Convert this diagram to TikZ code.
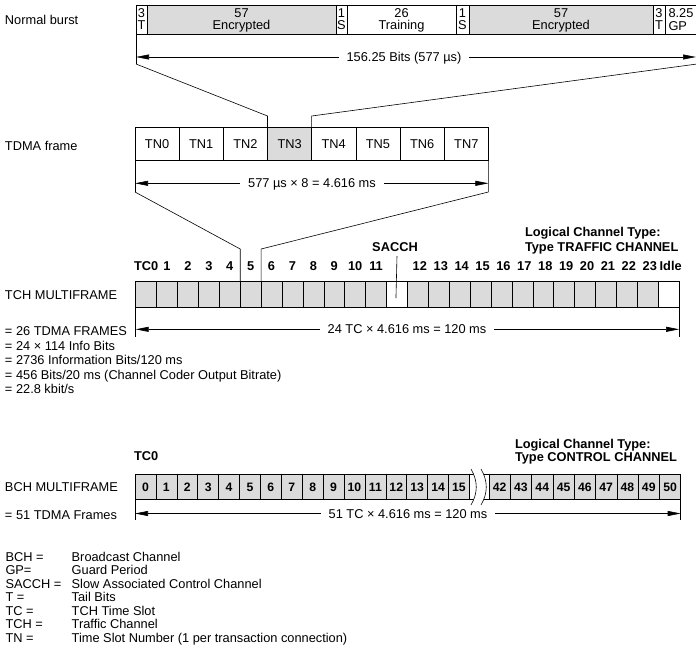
\documentclass[tikz,border=0pt]{standalone}
\usepackage{fontspec}
\setmainfont{Liberation Sans}
\usetikzlibrary{arrows.meta}
\definecolor{cellgray}{gray}{0.86}
\tikzset{
	cell/.style 2 args={draw,line width=0.6pt,inner sep=0pt,outer sep=0pt,minimum width=#1,minimum height=#2,
		font=\fontsize{12.8}{14}\selectfont,text height=9pt,text depth=0pt},
	bcell/.style 2 args={cell={#1}{#2},fill=cellgray,font=\fontsize{12.2}{14}\selectfont\bfseries},
	txt/.style={inner sep=0pt,outer sep=0pt,text height=9pt,text depth=0pt,font=\fontsize{12.8}{14}\selectfont},
	btxt/.style={txt,font=\fontsize{12.8}{14}\selectfont\bfseries},
	span/.style={line width=0.6pt,-{Triangle[length=13pt,width=5pt]}},
	spanlabel/.style={txt,fill=white,inner xsep=8pt}
}
\begin{document}
\begin{tikzpicture}[x=1pt,y=-1pt,line width=0.6pt]
	\useasboundingbox (0,0) rectangle (696,651);

	% normal burst
	\node[txt,anchor=west] (lburst) at (5,19.5) {Normal burst};
	\node[cell={11pt}{29pt}] (t1) at (141.5,19.5) {};
	\node[cell={189pt}{29pt},fill=cellgray] (e1) at (241.5,19.5) {};
	\node[cell={11pt}{29pt}] (s1) at (341.5,19.5) {};
	\node[cell={109pt}{29pt}] (tr) at (401.5,19.5) {};
	\node[cell={13pt}{29pt}] (s2) at (462.5,19.5) {};
	\node[cell={184pt}{29pt},fill=cellgray] (e2) at (561,19.5) {};
	\node[cell={12pt}{29pt}] (t2) at (659,19.5) {};
	\node[cell={35pt}{29pt}] (gp) at (682.5,19.5) {};

	\node[txt] at ([yshift=7pt]t1.center) {3};
	\node[txt] at ([yshift=-5.5pt]t1.center) {T};
	\node[txt] at ([yshift=7pt]e1.center) {57};
	\node[txt] at ([yshift=-5.5pt]e1.center) {Encrypted};
	\node[txt] at ([yshift=7pt]s1.center) {1};
	\node[txt] at ([yshift=-5.5pt]s1.center) {S};
	\node[txt] at ([yshift=7pt]tr.center) {26};
	\node[txt] at ([yshift=-5.5pt]tr.center) {Training};
	\node[txt] at ([yshift=7pt]s2.center) {1};
	\node[txt] at ([yshift=-5.5pt]s2.center) {S};
	\node[txt] at ([yshift=7pt]e2.center) {57};
	\node[txt] at ([yshift=-5.5pt]e2.center) {Encrypted};
	\node[txt] at ([yshift=7pt]t2.center) {3};
	\node[txt] at ([yshift=-5.5pt]t2.center) {T};
	\node[txt,anchor=west] at (668.5,12.5) {8.25};
	\node[txt,anchor=west] at (668.5,26) {GP};

	\coordinate (bt1) at (136,64);
	\coordinate (bt2) at (697,64);
	\draw (t1.south west) -- (bt1);
	\node[spanlabel] (lbits) at (404,57) {156.25 Bits (577 µs)};
	\draw[span] (lbits.west) -- (t1.south west |- 0,57);
	\draw[span] (lbits.east) -- (696,57);

	% tdma frame
	\node[txt,anchor=west] (lframe) at (5,146) {TDMA frame};
	\foreach \i/\c in {0/white,1/white,2/white,3/cellgray,4/white,5/white,6/white,7/white}
		\node[cell={44.17pt}{33pt},fill=\c] (tn\i) at ({135+44.17*(\i+0.5)},144.2) {TN\i};

	\draw (bt1) -- (tn3.north west |- 0,116) -- (tn3.north west);
	\draw (bt2) -- (tn3.north east |- 0,116) -- (tn3.north east);

	\coordinate (ft1) at (135,192);
	\coordinate (ft2) at (488.3,192);
	\draw (tn0.south west) -- (ft1);
	\draw (tn7.south east) -- (ft2);
	\node[spanlabel] (lms) at (312,183.3) {577 µs × 8 = 4.616 ms};
	\draw[span] (lms.west) -- (tn0.south west |- 0,183.3);
	\draw[span] (lms.east) -- (tn7.south east |- 0,183.3);

	% tch multiframe
	\node[txt,anchor=west] (ltch) at (5,294.5) {TCH MULTIFRAME};
	\foreach \i in {0,...,11}
		\node[cell={20.9pt}{25.6pt},fill=cellgray] (tc\i) at ({135.7+20.9*(\i+0.5)},294.5) {};
	\foreach \i in {13,...,24}
		\node[cell={20.9pt}{25.6pt},fill=cellgray] (tc\i) at ({135.7+20.9*(\i+0.5)},294.5) {};
	\node[cell={20.9pt}{25.6pt}] (tc12) at ({135.7+20.9*12.5},294.5) {};
	\node[cell={20.9pt}{25.6pt}] (tc25) at ({135.7+20.9*25.5},294.5) {};

	\node[btxt] at (tc0 |- 0,266) {TC0};
	\foreach \i in {1,...,11}
		\node[btxt] at (tc\i |- 0,266) {\i};
	\foreach \i in {13,...,24}{
		\pgfmathtruncatemacro\n{\i-1}
		\node[btxt] at ([xshift=2pt]tc\i |- 0,266) {\n};
	}
	\node[btxt] at ([xshift=2pt]tc25 |- 0,266) {Idle};

	\node[btxt] (lsacch) at (395,246.7) {SACCH};
	\draw ([xshift=2pt]lsacch.south |- 0,256) -- ([xshift=-1pt]tc12.center |- 0,298);

	\node[btxt,anchor=west] (ltype) at (525,231.7) {Logical Channel Type:};
	\node[btxt,anchor=west] (ltraffic) at (525,246.7) {Type TRAFFIC CHANNEL};

	\draw (ft1) -- (tc5.north west |- 0,249) -- (tc5.north west);
	\draw (ft2) -- (tc5.north east |- 0,249) -- (tc5.north east);

	\draw (tc0.south west) -- +(0,29.4);
	\draw (tc25.south east) -- +(0,29.4);
	\node[spanlabel] (ltc) at (407,329.3) {24 TC × 4.616 ms = 120 ms};
	\draw[span] (ltc.west) -- (tc0.south west |- 0,329.3);
	\draw[span] (ltc.east) -- (tc25.south east |- 0,329.3);

	\node[txt,anchor=west] (f1) at (5,331) {= 26 TDMA FRAMES};
	\node[txt,anchor=west] (f2) at (5,345.5) {= 24 × 114 Info Bits};
	\node[txt,anchor=west] (f3) at (5,360) {= 2736 Information Bits/120 ms};
	\node[txt,anchor=west] (f4) at (5,374.5) {= 456 Bits/20 ms (Channel Coder Output Bitrate)};
	\node[txt,anchor=west] (f5) at (5,389) {= 22.8 kbit/s};

	% bch multiframe
	\node[txt,anchor=west] (lbch) at (5,486.5) {BCH MULTIFRAME};
	\foreach \i in {0,...,15}
		\node[bcell={20.9pt}{25.6pt}] (bc\i) at ({135+20.9*(\i+0.5)},486.8) {\i};
	\foreach \i in {42,...,50}
		\node[bcell={21.3pt}{25.6pt}] (bc\i) at ({489+21.3*(\i-41.5)},486.8) {\i};

	\draw (bc15.north east) -- (bc42.north west);
	\draw (bc15.south east) -- (bc42.south west);
	\fill[white] (471,469) .. controls (478,481) and (478,493) .. (471,505)
		-- (481,505) .. controls (488,493) and (488,481) .. (481,469) -- cycle;
	\draw (471,469) .. controls (478,481) and (478,493) .. (471,505);
	\draw (481,469) .. controls (488,481) and (488,493) .. (481,505);

	\node[btxt,anchor=west] (ltc0) at (134,455.7) {TC0};
	\node[btxt,anchor=west] (ltype2) at (515,443.6) {Logical Channel Type:};
	\node[btxt,anchor=west] (lcontrol) at (515,457) {Type CONTROL CHANNEL};

	\draw (bc0.south west) -- +(0,20.5);
	\draw (bc50.south east) -- +(0,20.5);
	\node[spanlabel] (lbc) at (408,513.5) {51 TC × 4.616 ms = 120 ms};
	\draw[span] (lbc.west) -- (bc0.south west |- 0,513.5);
	\draw[span] (lbc.east) -- (bc50.south east |- 0,513.5);
	\node[txt,anchor=west] (lframes) at (5,514.5) {= 51 TDMA Frames};

	% legend
	\foreach \k/\a/\b in {0/BCH =/Broadcast Channel,1/GP=/Guard Period,2/SACCH =/Slow Associated Control Channel,
		3/T =/Tail Bits,4/TC =/TCH Time Slot,5/TCH =/Traffic Channel,6/TN =/Time Slot Number (1 per transaction connection)}{
		\node[txt,anchor=west] (key\k) at (5.5,{557+13.45*\k}) {\a};
		\node[txt,anchor=west] (val\k) at (71.7,{557+13.45*\k}) {\b};
	}
\end{tikzpicture}
\end{document}
